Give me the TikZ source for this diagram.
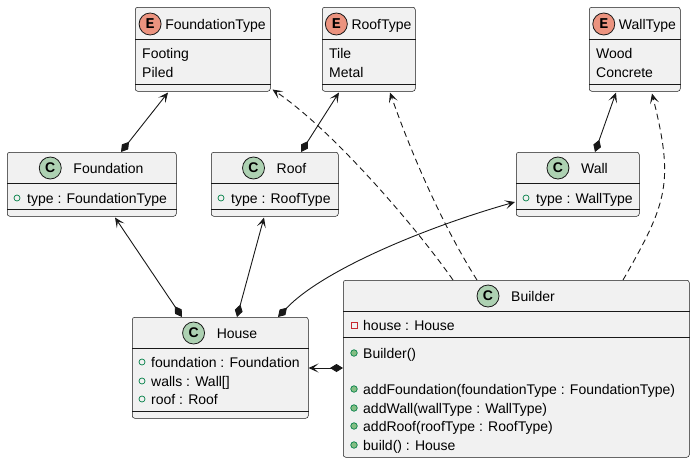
\documentclass[tikz,border=0pt]{standalone}
\usepackage{fontspec}
\setmainfont{Liberation Sans}
\newfontfamily\monofont{Liberation Mono}
\usetikzlibrary{arrows.meta,calc}
\definecolor{boxfill}{HTML}{F1F1F1}
\definecolor{ink}{HTML}{181818}
\definecolor{cgreen}{HTML}{ADD1B2}
\definecolor{esalmon}{HTML}{EB937F}
\definecolor{pubgreen}{HTML}{038048}
\definecolor{pubfill}{HTML}{84BE84}
\definecolor{privred}{HTML}{C82930}
\tikzset{
  umlbox/.style={draw=ink, line width=0.5pt, fill=boxfill, rounded corners=2.5pt, anchor=north west, inner sep=0pt},
  sepline/.style={draw=ink, line width=0.5pt},
  txt/.style={inner sep=0pt, text height=10pt, text depth=3pt, font=\fontsize{14}{14}\selectfont, text=black},
  cicon/.style={circle, draw=ink, line width=0.8pt, fill=cgreen, minimum size=22pt, inner sep=0pt, font=\fontsize{14}{14}\selectfont\bfseries},
  eicon/.style={circle, draw=ink, line width=0.8pt, fill=esalmon, minimum size=22pt, inner sep=0pt, font=\fontsize{15}{15}\selectfont\monofont\bfseries},
  pubfield/.style={circle, draw=pubgreen, line width=0.7pt, minimum size=6pt, inner sep=0pt},
  pubmethod/.style={circle, draw=pubgreen, fill=pubfill, line width=0.7pt, minimum size=6.5pt, inner sep=0pt},
  privfield/.style={rectangle, draw=privred, line width=0.7pt, minimum size=6pt, inner sep=0pt},
  assoc/.style={draw=ink, line width=0.9pt, {Diamond[length=13pt,width=8pt]}-{Stealth[length=10pt,width=9pt,inset=5pt]}},
  dep/.style={draw=ink, line width=0.9pt, dash pattern=on 6pt off 4pt, -{Stealth[length=10pt,width=9pt,inset=5pt]}}
}
\begin{document}
\begin{tikzpicture}[x=1pt,y=-1pt]
\useasboundingbox (0,0) rectangle (696,463);

% ---- FoundationType
\node[umlbox, minimum width=135pt, minimum height=84pt] (ft) at (135,7) {};
\draw[sepline] ($(ft.north west)+(0,32)$) -- ($(ft.north east)+(0,32)$);
\draw[sepline] ($(ft.north west)+(0,77)$) -- ($(ft.north east)+(0,77)$);
\node[txt, anchor=base] (ftname) at (215.5,29) {FoundationType};
\node[eicon] (fticon) at ($(ftname.west)+(-15,-1.5)$) {E};
\node[txt, anchor=base west] (ft1) at (142,58) {Footing};
\node[txt, anchor=base west] (ft2) at (142,77) {Piled};

% ---- RoofType
\node[umlbox, minimum width=93pt, minimum height=84pt] (rt) at (322,7) {};
\draw[sepline] ($(rt.north west)+(0,32)$) -- ($(rt.north east)+(0,32)$);
\draw[sepline] ($(rt.north west)+(0,77)$) -- ($(rt.north east)+(0,77)$);
\node[txt, anchor=base] (rtname) at (381.5,29) {RoofType};
\node[eicon] (rticon) at ($(rtname.west)+(-15,-1.5)$) {E};
\node[txt, anchor=base west] (rt1) at (329,58) {Tile};
\node[txt, anchor=base west] (rt2) at (329,77) {Metal};

% ---- WallType
\node[umlbox, minimum width=91pt, minimum height=84pt] (wt) at (589,7) {};
\draw[sepline] ($(wt.north west)+(0,32)$) -- ($(wt.north east)+(0,32)$);
\draw[sepline] ($(wt.north west)+(0,77)$) -- ($(wt.north east)+(0,77)$);
\node[txt, anchor=base] (wtname) at (647.5,29) {WallType};
\node[eicon] (wticon) at ($(wtname.west)+(-15,-1.5)$) {E};
\node[txt, anchor=base west] (wt1) at (596,58) {Wood};
\node[txt, anchor=base west] (wt2) at (596,77) {Concrete};

% ---- Foundation
\node[umlbox, minimum width=169pt, minimum height=64pt] (fnd) at (7,152) {};
\draw[sepline] ($(fnd.north west)+(0,31)$) -- ($(fnd.north east)+(0,31)$);
\draw[sepline] ($(fnd.north west)+(0,57)$) -- ($(fnd.north east)+(0,57)$);
\node[txt, anchor=base] (fndname) at (108.5,173) {Foundation};
\node[cicon] (fndicon) at ($(fndname.west)+(-23,-1.5)$) {C};
\node[pubfield] (fndv) at (17,198) {};
\node[txt, anchor=base west] (fnd1) at (27,203) {type : FoundationType};

% ---- Roof
\node[umlbox, minimum width=127pt, minimum height=64pt] (roof) at (211,152) {};
\draw[sepline] ($(roof.north west)+(0,31)$) -- ($(roof.north east)+(0,31)$);
\draw[sepline] ($(roof.north west)+(0,57)$) -- ($(roof.north east)+(0,57)$);
\node[txt, anchor=base] (roofname) at (291.5,173) {Roof};
\node[cicon] (roookicon) at ($(roofname.west)+(-23,-1.5)$) {C};
\node[pubfield] (roofv) at (221,198) {};
\node[txt, anchor=base west] (roof1) at (231,203) {type : RoofType};

% ---- Wall
\node[umlbox, minimum width=123pt, minimum height=64pt] (wall) at (516,152) {};
\draw[sepline] ($(wall.north west)+(0,31)$) -- ($(wall.north east)+(0,31)$);
\draw[sepline] ($(wall.north west)+(0,57)$) -- ($(wall.north east)+(0,57)$);
\node[txt, anchor=base] (wallname) at (594.5,173) {Wall};
\node[cicon] (wallicon) at ($(wallname.west)+(-23,-1.5)$) {C};
\node[pubfield] (wallv) at (526,198) {};
\node[txt, anchor=base west] (wall1) at (536,203) {type : WallType};

% ---- House
\node[umlbox, minimum width=176pt, minimum height=101pt] (house) at (132,317) {};
\draw[sepline] ($(house.north west)+(0,31)$) -- ($(house.north east)+(0,31)$);
\draw[sepline] ($(house.north west)+(0,94)$) -- ($(house.north east)+(0,94)$);
\node[txt, anchor=base] (housename) at (237,338) {House};
\node[cicon] (houseicon) at ($(housename.west)+(-23,-1.5)$) {C};
\node[pubfield] (hv1) at (142,362) {};
\node[txt, anchor=base west] (h1) at (151,367) {foundation : Foundation};
\node[pubfield] (hv2) at (142,381) {};
\node[txt, anchor=base west] (h2) at (151,386) {walls : Wall[]};
\node[pubfield] (hv3) at (142,399) {};
\node[txt, anchor=base west] (h3) at (151,404) {roof : Roof};

% ---- Builder
\node[umlbox, minimum width=346pt, minimum height=177pt] (builder) at (343,280) {};
\draw[sepline] ($(builder.north west)+(0,31)$) -- ($(builder.north east)+(0,31)$);
\draw[sepline] ($(builder.north west)+(0,57)$) -- ($(builder.north east)+(0,57)$);
\node[txt, anchor=base] (buildername) at (533,301) {Builder};
\node[cicon] (buildericon) at ($(buildername.west)+(-23,-1.5)$) {C};
\node[privfield] (bv0) at (354,325) {};
\node[txt, anchor=base west] (b0) at (363,330) {house : House};
\node[pubmethod] (bm1) at (354,353) {};
\node[txt, anchor=base west] (b1) at (363,358) {Builder()};
\node[pubmethod] (bm2) at (354,389) {};
\node[txt, anchor=base west] (b2) at (363,394) {addFoundation(foundationType : FoundationType)};
\node[pubmethod] (bm3) at (354,408) {};
\node[txt, anchor=base west] (b3) at (363,413) {addWall(wallType : WallType)};
\node[pubmethod] (bm4) at (354,426) {};
\node[txt, anchor=base west] (b4) at (363,431) {addRoof(roofType : RoofType)};
\node[pubmethod] (bm5) at (354,445) {};
\node[txt, anchor=base west] (b5) at (363,450) {build() : House};

% ---- compositions
\draw[assoc] ($(fnd.north west)+(114,0)$) -- ($(ft.south west)+(33,1)$);
\draw[assoc] ($(roof.north west)+(90,0)$) -- ($(rt.south west)+(17,1)$);
\draw[assoc] ($(wall.north west)+(79,0)$) -- ($(wt.south west)+(27,1)$);
\draw[assoc] ($(house.north west)+(50,0)$) -- ($(fnd.south west)+(108,1)$);
\draw[assoc] ($(house.north west)+(105,0)$) -- ($(roof.south west)+(53,1)$);
\draw[assoc] ($(house.north west)+(146,0)$) .. controls (325,268) and (433,225) .. ($(wall.north west)+(-1,50)$);
\draw[assoc] ($(builder.north west)+(0,88)$) -- ($(house.north east)+(0,51)$);

% ---- dependencies
\draw[dep] ($(builder.north west)+(110,0)$) .. controls (413,223) and (330,128) .. ($(ft.south east)+(2,-2)$);
\draw[dep] ($(builder.north west)+(134,0)$) .. controls (442,225) and (410,150) .. ($(rt.south west)+(68,1)$);
\draw[dep] ($(builder.north west)+(280,0)$) .. controls (668,202) and (674,182) .. ($(wt.south west)+(63,2)$);
\end{tikzpicture}
\end{document}
